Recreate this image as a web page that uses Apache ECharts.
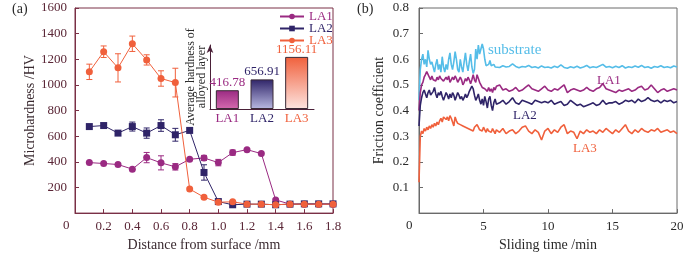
<!DOCTYPE html>
<html>
<head>
<meta charset="utf-8">
<script src="https://cdn.jsdelivr.net/npm/echarts@6/dist/echarts.min.js"></script>
<style>
html, body { margin: 0; padding: 0; background: #fff; }
#chart { width: 700px; height: 257px; }
</style>
</head>
<body>
<div id="chart"></div>
<script>
// ---- (a) microhardness vs depth ----
const depth = [0.1, 0.2, 0.3, 0.4, 0.5, 0.6, 0.7, 0.8, 0.9, 1.0, 1.1, 1.2, 1.3, 1.4, 1.5, 1.6, 1.7, 1.8];
const la1Hard = [394, 387, 379, 343, 433, 392, 361, 420, 430, 394, 472, 495, 464, 103, 70, 70, 70, 70];
const la1Err  = [0, 0, 0, 0, 40, 55, 25, 0, 20, 25, 20, 0, 0, 0, 0, 0, 0, 0];
const la2Hard = [675, 683, 624, 675, 624, 683, 611, 645, 317, 90, 65, 70, 70, 65, 70, 72, 72, 72];
const la2Err  = [0, 0, 15, 35, 40, 45, 50, 0, 60, 0, 0, 0, 0, 0, 0, 0, 0, 0];
const la3Hard = [1102, 1259, 1133, 1321, 1195, 1050, 1018, 188, 124, 85, 88, 70, 70, 65, 70, 70, 70, 70];
const la3Err  = [60, 45, 110, 60, 40, 60, 112, 0, 0, 0, 10, 0, 0, 0, 0, 0, 0, 0];

// inset: average hardness of alloyed layer
const avgNames = ['LA1', 'LA2', 'LA3'];
const avgHard = [416.78, 656.91, 1156.11];

// ---- (b) friction coefficient vs sliding time ----
const time = [0, 0.1, 0.2, 0.3, 0.4, 0.5, 0.6, 0.7, 0.8, 0.9, 1, 1.1, 1.2, 1.3, 1.4, 1.5, 1.6, 1.7, 1.8, 1.9,
  2, 2.1, 2.2, 2.3, 2.4, 2.5, 2.6, 2.7, 2.8, 2.9, 3, 3.1, 3.2, 3.3, 3.4, 3.5, 3.6, 3.7, 3.8, 3.9,
  4, 4.1, 4.2, 4.3, 4.4, 4.5, 4.6, 4.7, 4.8, 4.9, 5, 5.1, 5.2, 5.3, 5.4, 5.5, 5.6, 5.7, 5.8, 5.9, 6,
  6.25, 6.5, 6.75, 7, 7.25, 7.5, 7.75, 8, 8.25, 8.5, 8.75, 9, 9.25, 9.5, 9.75, 10, 10.25, 10.5, 10.75, 11,
  11.25, 11.5, 11.75, 12, 12.25, 12.5, 12.75, 13, 13.25, 13.5, 13.75, 14, 14.25, 14.5, 14.75, 15,
  15.25, 15.5, 15.75, 16, 16.25, 16.5, 16.75, 17, 17.25, 17.5, 17.75, 18, 18.25, 18.5, 18.75, 19,
  19.25, 19.5, 19.75, 20];
const fricSub = [0.44, 0.56, 0.60, 0.62, 0.58, 0.60, 0.57, 0.635, 0.60, 0.58,
  0.59, 0.57, 0.55, 0.58, 0.60, 0.56, 0.58, 0.55, 0.61, 0.57,
  0.55, 0.58, 0.56, 0.60, 0.625, 0.58, 0.56, 0.59, 0.63, 0.60,
  0.56, 0.55, 0.60, 0.57, 0.55, 0.59, 0.625, 0.58, 0.555, 0.59,
  0.62, 0.57, 0.545, 0.56, 0.64, 0.60, 0.655, 0.62, 0.64, 0.66,
  0.64, 0.60, 0.575, 0.57, 0.58, 0.595, 0.575, 0.57, 0.58, 0.57, 0.572,
  0.568, 0.575, 0.57, 0.572, 0.582, 0.572, 0.567, 0.572, 0.57, 0.576, 0.568, 0.571, 0.566, 0.574, 0.568, 0.57,
  0.566, 0.573, 0.568, 0.578, 0.568, 0.565, 0.571, 0.567, 0.573, 0.566, 0.57, 0.576, 0.567, 0.571, 0.568, 0.574,
  0.58, 0.569, 0.572, 0.567, 0.573, 0.568, 0.575, 0.566, 0.571, 0.568, 0.574, 0.569, 0.576, 0.568, 0.571, 0.565,
  0.572, 0.569, 0.575, 0.568, 0.571, 0.567, 0.574, 0.57];
const fricLA1 = [0.40, 0.47, 0.50, 0.51, 0.53, 0.54, 0.552, 0.545, 0.53, 0.52,
  0.535, 0.52, 0.525, 0.515, 0.53, 0.52, 0.535, 0.525, 0.53, 0.515,
  0.52, 0.53, 0.52, 0.535, 0.51, 0.52, 0.53, 0.52, 0.535, 0.525,
  0.51, 0.52, 0.53, 0.52, 0.50, 0.51, 0.525, 0.515, 0.53, 0.52,
  0.505, 0.52, 0.54, 0.52, 0.51, 0.54, 0.525, 0.51, 0.50, 0.49,
  0.495, 0.485, 0.48, 0.475, 0.49, 0.475, 0.485, 0.47, 0.49, 0.48, 0.495,
  0.50, 0.48, 0.485, 0.475, 0.48, 0.49, 0.475, 0.48, 0.49, 0.50, 0.485, 0.48, 0.475, 0.485, 0.495, 0.48,
  0.475, 0.485, 0.48, 0.49, 0.50, 0.47, 0.48, 0.485, 0.48, 0.475, 0.48, 0.49, 0.48, 0.475, 0.485, 0.49,
  0.505, 0.485, 0.48, 0.475, 0.47, 0.48, 0.475, 0.48, 0.485, 0.475, 0.48, 0.49, 0.495, 0.48, 0.485, 0.50,
  0.485, 0.47, 0.48, 0.485, 0.475, 0.48, 0.485, 0.48];
const fricLA2 = [0.34, 0.42, 0.45, 0.47, 0.48, 0.465, 0.45, 0.47, 0.48, 0.46,
  0.455, 0.475, 0.49, 0.465, 0.45, 0.47, 0.46, 0.475, 0.455, 0.44,
  0.455, 0.47, 0.46, 0.445, 0.465, 0.45, 0.47, 0.46, 0.44, 0.455,
  0.47, 0.46, 0.445, 0.455, 0.44, 0.45, 0.465, 0.45, 0.46, 0.475,
  0.48, 0.495, 0.485, 0.46, 0.44, 0.45, 0.465, 0.44, 0.425, 0.445,
  0.42, 0.455, 0.435, 0.41, 0.445, 0.455, 0.42, 0.40, 0.43, 0.445, 0.425,
  0.43, 0.44, 0.425, 0.435, 0.45, 0.43, 0.425, 0.44, 0.435, 0.43, 0.425, 0.44, 0.435, 0.43, 0.435, 0.43,
  0.44, 0.425, 0.43, 0.435, 0.42, 0.425, 0.44, 0.43, 0.42, 0.425, 0.415, 0.42, 0.425, 0.43, 0.42, 0.425,
  0.44, 0.425, 0.43, 0.43, 0.435, 0.425, 0.43, 0.44, 0.435, 0.44, 0.43, 0.445, 0.435, 0.44, 0.45, 0.44,
  0.435, 0.44, 0.43, 0.44, 0.435, 0.44, 0.43, 0.435];
const fricLA3 = [0.12, 0.30, 0.32, 0.31, 0.33, 0.32, 0.335, 0.325, 0.34, 0.33,
  0.345, 0.335, 0.35, 0.34, 0.355, 0.345, 0.36, 0.37, 0.355, 0.375,
  0.38, 0.365, 0.375, 0.36, 0.38, 0.37, 0.355, 0.34, 0.375, 0.36,
  0.35, 0.355, 0.345, 0.35, 0.34, 0.345, 0.335, 0.34, 0.33, 0.335,
  0.325, 0.33, 0.32, 0.335, 0.33, 0.345, 0.335, 0.325, 0.33, 0.32,
  0.335, 0.325, 0.315, 0.33, 0.32, 0.325, 0.315, 0.33, 0.32, 0.31, 0.325,
  0.315, 0.33, 0.31, 0.32, 0.325, 0.31, 0.32, 0.335, 0.34, 0.32, 0.31, 0.325, 0.315, 0.285, 0.32, 0.33,
  0.31, 0.325, 0.315, 0.335, 0.345, 0.31, 0.32, 0.315, 0.29, 0.32, 0.31, 0.325, 0.315, 0.32, 0.31, 0.325,
  0.315, 0.33, 0.32, 0.31, 0.325, 0.315, 0.33, 0.345, 0.32, 0.31, 0.325, 0.315, 0.33, 0.32, 0.315, 0.325,
  0.32, 0.33, 0.315, 0.32, 0.325, 0.315, 0.32, 0.31];

const C1 = '#9a2a82', C2 = '#2f2468', C3 = '#f0603c', CS = '#55bde8';
const serif = 'Liberation Serif';
const maroon = '#7a3046';
const maroonText = '#5a2636';

const chart = echarts.init(document.getElementById('chart'));

function pairs(xs, ys) {
    return xs.map((x, i) => [x, ys[i]]);
}

function errData(xs, ys, es) {
    const out = [];
    xs.forEach((x, i) => {
        if (es[i] > 0) out.push([x, ys[i] - es[i], ys[i] + es[i]]);
    });
    return out;
}

// vertical error bar with small caps
function renderErr(params, api) {
    const lo = api.coord([api.value(0), api.value(1)]);
    const hi = api.coord([api.value(0), api.value(2)]);
    const style = { stroke: api.visual('color'), lineWidth: 1, fill: null };
    const w = 3;
    return {
        type: 'group',
        children: [
            { type: 'line', shape: { x1: lo[0], y1: lo[1], x2: hi[0], y2: hi[1] }, style },
            { type: 'line', shape: { x1: lo[0] - w, y1: lo[1], x2: lo[0] + w, y2: lo[1] }, style },
            { type: 'line', shape: { x1: hi[0] - w, y1: hi[1], x2: hi[0] + w, y2: hi[1] }, style },
        ],
    };
}

const hideZero = (dec) => (v) => (v === 0 ? '' : (dec ? v.toFixed(dec) : String(v)));

const barColors = [
    [C1, '#d56aae'],
    [C2, '#b9b9e2'],
    [C3, '#fde4e0'],
];

chart.setOption({
    animation: false,
    textStyle: { fontFamily: serif },
    grid: [
        { left: 75, top: 8, width: 258, height: 207, show: true, borderColor: maroon, borderWidth: 1 },
        { left: 210, top: 45, width: 104, height: 64 },
        { left: 419, top: 8, width: 258, height: 208, show: true, borderColor: '#6a6a6a', borderWidth: 1 },
    ],
    legend: {
        left: 274, top: 5, orient: 'vertical', itemWidth: 24, itemHeight: 7, itemGap: -1,
        textStyle: { fontFamily: serif, fontSize: 13 },
        data: [
            { name: 'LA1', textStyle: { color: C1 } },
            { name: 'LA2', textStyle: { color: C2 } },
            { name: 'LA3', textStyle: { color: C3 } },
        ],
    },
    xAxis: [
        {
            gridIndex: 0, type: 'value', min: 0, max: 1.8, interval: 0.2,
            name: 'Distance from surface /mm', nameLocation: 'middle', nameGap: 24,
            nameTextStyle: { fontFamily: serif, fontSize: 14, color: '#3a2a30' },
            axisLine: { lineStyle: { color: maroon } },
            axisTick: { inside: true, length: 4, lineStyle: { color: maroon } },
            axisLabel: { color: maroonText, fontSize: 13, margin: 7, formatter: hideZero(1) },
            splitLine: { show: false },
        },
        {
            gridIndex: 1, type: 'category', data: avgNames,
            axisLine: { lineStyle: { color: '#4a2038' } },
            axisTick: { show: false },
            axisLabel: { fontSize: 13, margin: 3, color: (v, i) => [C1, C2, C3][i] },
        },
        {
            gridIndex: 2, type: 'value', min: 0, max: 20, interval: 5,
            name: 'Sliding time /min', nameLocation: 'middle', nameGap: 24,
            nameTextStyle: { fontFamily: serif, fontSize: 14, color: '#2a2a2a' },
            axisLine: { lineStyle: { color: '#6a6a6a' } },
            axisTick: { inside: true, length: 4, lineStyle: { color: '#6a6a6a' } },
            axisLabel: { color: '#2a2a2a', fontSize: 13, margin: 7, formatter: hideZero(0) },
            splitLine: { show: false },
        },
    ],
    yAxis: [
        {
            gridIndex: 0, type: 'value', min: 0, max: 1600, interval: 200,
            name: 'Microhardness /HV', nameLocation: 'middle', nameGap: 35,
            nameTextStyle: { fontFamily: serif, fontSize: 14, color: '#3a2a30' },
            axisLine: { lineStyle: { color: maroon } },
            axisTick: { inside: true, length: 4, lineStyle: { color: maroon } },
            axisLabel: { color: maroonText, fontSize: 13, margin: 8, formatter: hideZero(0) },
            splitLine: { show: false },
        },
        {
            gridIndex: 1, type: 'value', min: 0, max: 1420,
            name: 'Average hardness of\nalloyed layer', nameLocation: 'middle', nameGap: 3, nameRotate: 90,
            nameTextStyle: { fontFamily: serif, fontSize: 12, lineHeight: 11, color: '#2a2a2a' },
            axisLine: { show: true, symbol: ['none', 'arrow'], symbolSize: [5, 8], lineStyle: { color: '#4a2038' } },
            axisTick: { show: false },
            axisLabel: { show: false },
            splitLine: { show: false },
        },
        {
            gridIndex: 2, type: 'value', min: 0, max: 0.8, interval: 0.1,
            name: 'Friction coefficient', nameLocation: 'middle', nameGap: 33,
            nameTextStyle: { fontFamily: serif, fontSize: 14, color: '#2a2a2a' },
            axisLine: { lineStyle: { color: '#6a6a6a' } },
            axisTick: { inside: true, length: 4, lineStyle: { color: '#6a6a6a' } },
            axisLabel: { color: '#2a2a2a', fontSize: 13, margin: 10, formatter: hideZero(1) },
            splitLine: { show: false },
        },
    ],
    series: [
        { name: 'LA1', type: 'line', xAxisIndex: 0, yAxisIndex: 0, data: pairs(depth, la1Hard),
          symbol: 'circle', symbolSize: 7, color: C1, lineStyle: { width: 1 } },
        { name: 'LA2', type: 'line', xAxisIndex: 0, yAxisIndex: 0, data: pairs(depth, la2Hard),
          symbol: 'rect', symbolSize: 7, color: C2, lineStyle: { width: 1 } },
        { name: 'LA3', type: 'line', xAxisIndex: 0, yAxisIndex: 0, data: pairs(depth, la3Hard),
          symbol: 'circle', symbolSize: 7, color: C3, lineStyle: { width: 1 } },
        { name: 'errLA1', type: 'custom', xAxisIndex: 0, yAxisIndex: 0, color: C1,
          data: errData(depth, la1Hard, la1Err), renderItem: renderErr },
        { name: 'errLA2', type: 'custom', xAxisIndex: 0, yAxisIndex: 0, color: C2,
          data: errData(depth, la2Hard, la2Err), renderItem: renderErr },
        { name: 'errLA3', type: 'custom', xAxisIndex: 0, yAxisIndex: 0, color: C3,
          data: errData(depth, la3Hard, la3Err), renderItem: renderErr },
        {
            name: 'avg', type: 'bar', xAxisIndex: 1, yAxisIndex: 1, barWidth: 23,
            data: avgHard.map((v, i) => ({
                value: v,
                itemStyle: {
                    color: new echarts.graphic.LinearGradient(0, 0, 0, 1, [
                        { offset: 0, color: barColors[i][0] },
                        { offset: 1, color: barColors[i][1] },
                    ]),
                    borderColor: '#3a2a36', borderWidth: 1,
                },
                label: { color: barColors[i][0] },
            })),
            label: { show: true, position: 'top', distance: 1, fontSize: 13, fontFamily: serif,
                     formatter: (p) => p.value.toFixed(2) },
        },
        { name: 'substrate', type: 'line', xAxisIndex: 2, yAxisIndex: 2, data: pairs(time, fricSub),
          showSymbol: false, color: CS, lineStyle: { width: 1.6 } },
        { name: 'fLA1', type: 'line', xAxisIndex: 2, yAxisIndex: 2, data: pairs(time, fricLA1),
          showSymbol: false, color: C1, lineStyle: { width: 1.6 } },
        { name: 'fLA2', type: 'line', xAxisIndex: 2, yAxisIndex: 2, data: pairs(time, fricLA2),
          showSymbol: false, color: C2, lineStyle: { width: 1.6 } },
        { name: 'fLA3', type: 'line', xAxisIndex: 2, yAxisIndex: 2, data: pairs(time, fricLA3),
          showSymbol: false, color: C3, lineStyle: { width: 1.6 } },
    ],
    graphic: [
        { type: 'text', left: 12, top: 2, style: { text: '(a)', font: '14px ' + serif, fill: '#2a2a2a' } },
        { type: 'text', left: 357, top: 2, style: { text: '(b)', font: '14px ' + serif, fill: '#2a2a2a' } },
        { type: 'text', left: 63, top: 219, style: { text: '0', font: '13px ' + serif, fill: maroonText } },
        { type: 'text', left: 406, top: 219, style: { text: '0', font: '13px ' + serif, fill: '#2a2a2a' } },
        { type: 'text', left: 488, top: 43, style: { text: 'substrate', font: '15px ' + serif, fill: CS } },
        { type: 'text', left: 597, top: 74, style: { text: 'LA1', font: '13px ' + serif, fill: C1 } },
        { type: 'text', left: 513, top: 109, style: { text: 'LA2', font: '13px ' + serif, fill: C2 } },
        { type: 'text', left: 573, top: 142, style: { text: 'LA3', font: '13px ' + serif, fill: C3 } },
    ],
});
</script>
</body>
</html>
